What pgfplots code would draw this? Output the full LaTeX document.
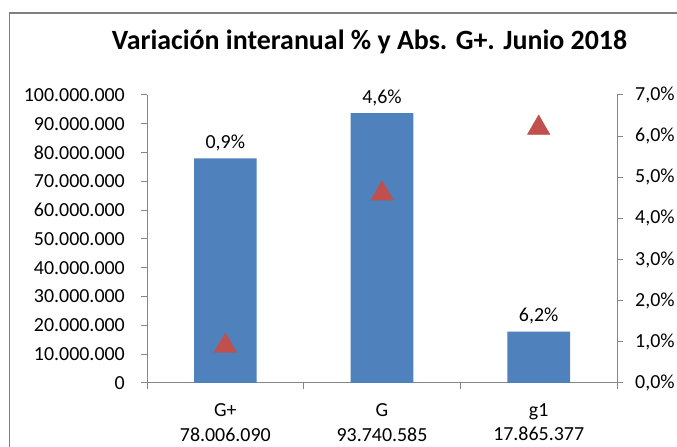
\documentclass[border=0pt]{standalone}
\usepackage{fontspec}
\setmainfont{Carlito}
\usepackage{pgfplots}
\pgfplotsset{compat=1.18}
\definecolor{barblue}{RGB}{79,129,189}
\definecolor{trired}{RGB}{192,80,77}
\definecolor{axgray}{RGB}{134,134,134}
\definecolor{framegray}{RGB}{128,128,128}
\begin{document}
\begin{tikzpicture}[x=1bp,y=1bp]
\useasboundingbox (0,0) rectangle (677,447);
\fill[white] (0,0) rectangle (677,447);
\draw[framegray, line width=1.5bp] (9.5,-5) -- (9.5,434) -- (690,434);
\node[font=\fontsize{28}{34}\selectfont\bfseries, anchor=base, inner sep=0pt] at (369.5,397) {Variación interanual \% y Abs. G+. Junio 2018};
\begin{axis}[
  at={(147bp,64bp)}, anchor=south west,
  scale only axis, width=470bp, height=288bp,
  xmin=-0.5, xmax=2.5, ymin=0, ymax=100000000,
  axis x line*=bottom, axis y line*=left,
  axis line style={axgray, line width=1bp},
  tick align=outside,
  major tick length=6bp, minor tick length=6bp,
  tick style={axgray, line width=1bp},
  xtick={0,1,2},
  xticklabels={{G+\\78.006.090},{G\\93.740.585},{g1\\17.865.377}},
  major x tick style={draw=none},
  minor xtick={-0.5,0.5,1.5,2.5},
  ytick={0,10000000,20000000,30000000,40000000,50000000,60000000,70000000,80000000,90000000,100000000},
  scaled y ticks=false,
  tick label style={font=\fontsize{20}{28}\selectfont},
  yticklabel style={/pgf/number format/fixed, /pgf/number format/1000 sep={.}, /pgf/number format/assume math mode=true, inner sep=0pt, xshift=-16bp},
  xticklabel style={align=center, inner sep=0pt, yshift=-14bp, font=\fontsize{20}{25}\selectfont},
  clip=false,
]
\addplot[ybar, bar width=0.4, fill=barblue, draw=none,
  nodes near coords, point meta=explicit symbolic,
  nodes near coords style={font=\fontsize{20}{24}\selectfont, inner sep=0pt, anchor=south, yshift=7bp}]
  coordinates {(0,78006090) [0,9\%] (1,93740585) [4,6\%] (2,17865377) [6,2\%]};
\end{axis}
\begin{axis}[
  at={(147bp,64bp)}, anchor=south west,
  scale only axis, width=470bp, height=288bp,
  xmin=-0.5, xmax=2.5, ymin=0, ymax=7,
  axis x line=none, axis y line*=right,
  axis line style={axgray, line width=1bp},
  tick align=outside,
  major tick length=6bp,
  tick style={axgray, line width=1bp},
  ytick={0,1,2,3,4,5,6,7},
  yticklabel={\pgfmathprintnumber[fixed,fixed zerofill,precision=1,use comma,assume math mode=true]{\tick}\%},
  tick label style={font=\fontsize{20}{28}\selectfont},
  yticklabel style={inner sep=0pt, xshift=12bp},
  clip=false,
]
\addplot[only marks, mark=triangle*, mark size=13bp, color=trired] coordinates {(0,0.9) (1,4.6) (2,6.2)};
\end{axis}
\end{tikzpicture}
\end{document}
